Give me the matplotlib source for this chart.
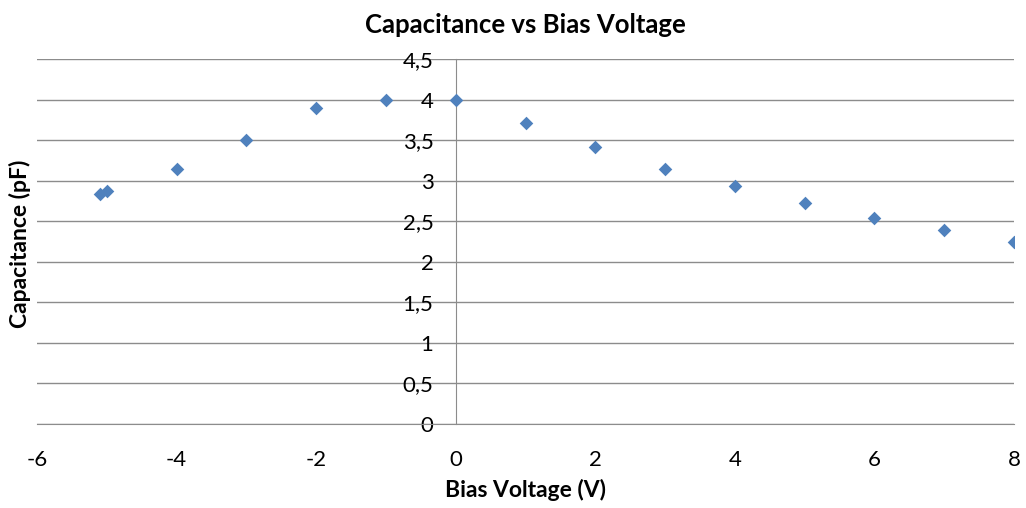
import matplotlib
matplotlib.use("Agg")
from matplotlib import pyplot as plt
from matplotlib.ticker import FuncFormatter

# bias sweep (V) and measured capacitance (pF)
bias_v = [-5.1, -5.0, -4, -3, -2, -1, 0, 1, 2, 3, 4, 5, 6, 7, 8]
cap_pf = [2.83, 2.87, 3.14, 3.50, 3.90, 4.00, 4.00, 3.71, 3.42, 3.14, 2.93, 2.73, 2.54, 2.39, 2.25]

plt.rcParams['font.family'] = ['Lato', 'DejaVu Sans']
plt.rcParams['axes.unicode_minus'] = False

fig = plt.figure(figsize=(10.26, 5.08), dpi=100)
ax = fig.add_axes([37 / 1026, 1 - 424 / 508, (1014 - 37) / 1026, (424 - 59) / 508])

ax.scatter(bias_v, cap_pf, marker='D', s=48, color='#4F81BD', zorder=3, linewidths=0)

ax.set_xlim(-6, 8)
ax.set_ylim(0, 4.5)
ax.set_xticks(range(-6, 9, 2))
ax.set_yticks([i * 0.5 for i in range(10)])

comma = FuncFormatter(lambda v, p: ('%g' % v).replace('.', ','))
ax.yaxis.set_major_formatter(comma)

ax.grid(axis='y', color='#8c8c8c', linewidth=1)
ax.set_axisbelow(True)
for s in ['top', 'right']:
    ax.spines[s].set_visible(False)
ax.spines['left'].set_position(('data', 0))
ax.spines['left'].set_color('#8c8c8c')
ax.spines['bottom'].set_color('#8c8c8c')
ax.tick_params(axis='both', length=0, labelsize=16, colors='black')
ax.tick_params(axis='x', pad=19)
ax.tick_params(axis='y', pad=16)

ax.set_title('Capacitance vs Bias Voltage', fontsize=18.5, fontweight='bold', pad=19)
ax.set_xlabel('Bias Voltage (V)', fontsize=16.5, fontweight='bold', labelpad=6)
ax.set_ylabel('Capacitance (pF)', fontsize=16.5, fontweight='bold')
ax.yaxis.set_label_coords(-0.006, 0.495)

fig.savefig('out.png')
